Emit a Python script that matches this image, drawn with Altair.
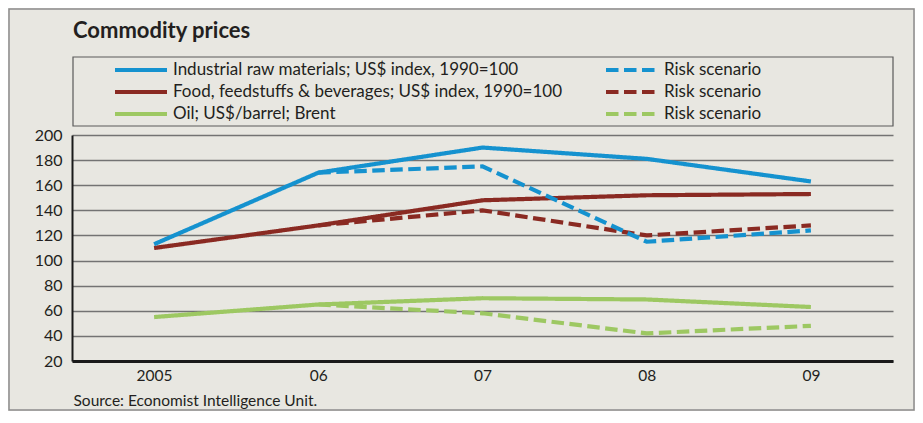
import altair as alt
import pandas as pd

years = ["2005", "06", "07", "08", "09"]
industrial = [113, 170, 190, 181, 163]
industrial_risk = [None, 170, 175, 115, 124]
food = [110, 128, 148, 152, 153]
food_risk = [None, 128, 140, 120, 128]
oil = [55, 65, 70, 69, 63]
oil_risk = [None, 65, 58, 42, 48]

series_keys = [
    "Industrial raw materials; US$ index, 1990=100",
    "Industrial risk",
    "Food, feedstuffs & beverages; US$ index, 1990=100",
    "Food risk",
    "Oil; US$/barrel; Brent",
    "Oil risk",
]
series_values = [industrial, industrial_risk, food, food_risk, oil, oil_risk]
colors = ["#1592cf", "#1592cf", "#8a2a22", "#8a2a22", "#9dc862", "#9dc862"]
dashes = [[1, 0], [12.5, 5.5], [1, 0], [12.5, 5.5], [1, 0], [12.5, 5.5]]
draw_order = [5, 4, 3, 2, 1, 0]

rows = []
for k in draw_order:
    for y, v in zip(years, series_values[k]):
        if v is not None:
            rows.append({"year": y, "value": v, "series": series_keys[k], "order": k})
df = pd.DataFrame(rows)

W, H = 821, 226
PAD = {"left": 64, "top": 127, "right": 22, "bottom": 50}
FONT = "Lato"
TXT = "#231f20"

legend = alt.Legend(
    title=None,
    orient="none",
    direction="horizontal",
    legendX=41,
    legendY=-73,
    columns=2,
    columnPadding=41,
    rowPadding=5,
    clipHeight=16,
    padding=0,
    symbolType="stroke",
    symbolSize=2704,
    symbolStrokeWidth=4,
    labelOffset=4,
    labelFont=FONT,
    labelFontSize=17,
    labelColor=TXT,
    labelLimit=600,
    labelExpr="indexof(datum.label, 'risk') >= 0 ? 'Risk scenario' : datum.label",
)

lines = alt.Chart(df).mark_line(strokeWidth=4.2, strokeCap="butt").encode(
    x=alt.X(
        "year:O",
        scale=alt.Scale(type="point", domain=years, padding=0.5),
        sort=years,
        axis=alt.Axis(
            title="Source: Economist Intelligence Unit.",
            titleAnchor="start",
            titleAlign="left",
            titleBaseline="alphabetic",
            titleX=1,
            titleY=44,
            titleFont=FONT,
            titleFontSize=15.5,
            titleFontWeight="normal",
            titleColor=TXT,
            labelAngle=0,
            labelFont=FONT,
            labelFontSize=15.5,
            labelColor=TXT,
            labelPadding=7,
            ticks=False,
            domainColor="#1a1a1a",
            domainWidth=3,
            grid=False,
        ),
    ),
    y=alt.Y(
        "value:Q",
        scale=alt.Scale(domain=[20, 200], nice=False, zero=False),
        axis=alt.Axis(
            title=None,
            values=list(range(20, 201, 20)),
            labelFont=FONT,
            labelFontSize=16,
            labelColor=TXT,
            labelPadding=10,
            ticks=False,
            domainColor="#1a1a1a",
            domainWidth=2,
            grid=True,
            gridColor="#737373",
            gridWidth=1.6,
        ),
    ),
    color=alt.Color("series:N", scale=alt.Scale(domain=series_keys, range=colors), legend=legend),
    strokeDash=alt.StrokeDash("series:N", scale=alt.Scale(domain=series_keys, range=dashes), legend=legend),
    detail="series:N",
    order="order:Q",
)

box = alt.Chart(pd.DataFrame({"a": [0]})).mark_rect(
    fill=None, stroke="#5a5a5a", strokeWidth=1.2
).encode(x=alt.value(1), x2=alt.value(W), y=alt.value(-78), y2=alt.value(-9))

frame = alt.Chart(pd.DataFrame({"a": [0]})).mark_rect(
    fill=None, stroke="#8c8c8c", strokeWidth=1.5
).encode(x=alt.value(-63), x2=alt.value(W + 21), y=alt.value(-126), y2=alt.value(H + 49))

chart = alt.layer(frame, box, lines).properties(
    width=W,
    height=H,
    padding=PAD,
    autosize=alt.AutoSizeParams(type="none"),
    background="#e8e7e1",
    title=alt.TitleParams(
        "Commodity prices",
        anchor="start",
        frame="group",
        font=FONT,
        fontSize=22,
        fontWeight="bold",
        color=TXT,
        baseline="alphabetic",
        offset=0,
        dx=1,
        dy=52,
    ),
).configure_view(stroke=None)

chart.save("out.html", embed_options={"renderer": "svg", "actions": False})
